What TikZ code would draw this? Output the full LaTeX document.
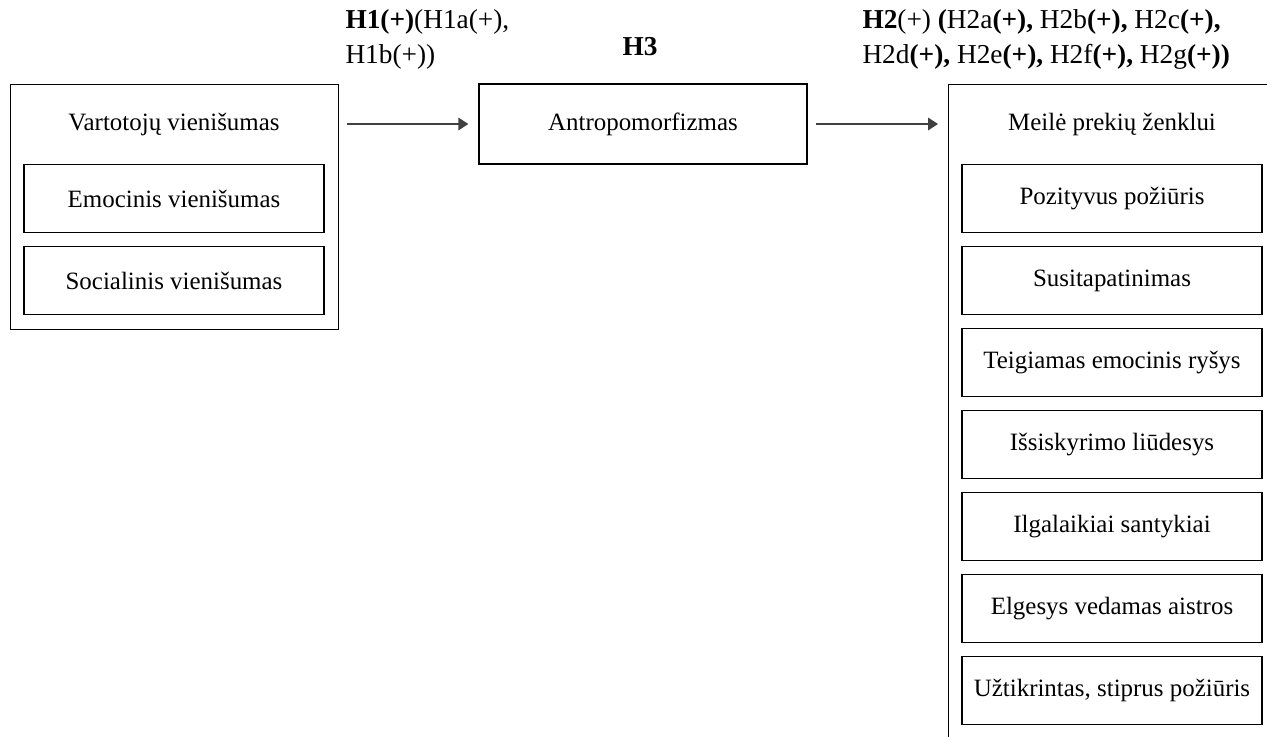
\documentclass[tikz,border=0pt]{standalone}
\usepackage{fontspec}
\setmainfont{Liberation Serif}
\usetikzlibrary{arrows.meta,positioning}
\tikzset{every picture/.style={line width=0.75pt}}

\begin{document}
\begin{tikzpicture}[x=0.75pt,y=0.75pt,yscale=-1,xscale=1,
  font=\fontsize{18.7}{22}\selectfont,
  box/.style={draw, line width=1pt, inner sep=0pt},
  item/.style={box, minimum width=225pt, minimum height=51pt},
  hyp/.style={anchor=north west, align=left, inner sep=0pt, font=\fontsize{20.5}{26}\selectfont},
  link/.style={draw={rgb,255:red,64;green,64;blue,64}, line width=1pt, -{Triangle[length=7.5pt,width=9.5pt]}, shorten <=6pt, shorten >=7.5pt}]
\useasboundingbox (0,0) rectangle (1267,736);
\clip (0,0) rectangle (1267,736);

%Shape: Rectangle (left group)
\node[box, anchor=north west, minimum width=246pt, minimum height=183.75pt] (vienisumas) at (10,84) {};
\node (vienisumasT) at (174,124) {Vartotojų vienišumas};
\node[item] (emocinis) at (174,198.5) {Emocinis vienišumas};
\node[item] (socialinis) at (174,280.5) {Socialinis vienišumas};

%Shape: Rectangle (middle)
\node[box, minimum width=246pt, minimum height=60pt] (antropo) at (643,124) {Antropomorfizmas};

%Shape: Rectangle (right group)
\node[box, anchor=north west, minimum width=255pt, minimum height=525pt] (meile) at (948,84) {};
\node (meileT) at (1112,124) {Meilė prekių ženklui};
\node[item] (pozityvus) at (1112,198.5) {Pozityvus požiūris};
\node[item] (susitap) at (1112,280.5) {Susitapatinimas};
\node[item] (emocRysys) at (1112,362.5) {Teigiamas emocinis ryšys};
\node[item] (issiskyr) at (1112,444.5) {Išsiskyrimo liūdesys};
\node[item] (ilgalaik) at (1112,526.5) {Ilgalaikiai santykiai};
\node[item] (aistra) at (1112,608.5) {Elgesys vedamas aistros};
\node[item] (uztikr) at (1112,690.5) {Užtikrintas, stiprus požiūris};

%Hypotheses
\node[hyp] (h1) at (345,9) {\textbf{H1(+)}(H1a(+),\\H1b(+))};
\node[font=\fontsize{20.5}{26}\selectfont\bfseries] (h3) at (640,47) {H3};
\node[hyp] (h2) at (862,9) {\textbf{H2}(+) \textbf{(}H2a\textbf{(+),} H2b\textbf{(+),} H2c\textbf{(+),}\\H2d\textbf{(+),} H2e\textbf{(+),} H2f\textbf{(+),} H2g\textbf{(+))}};

%Straight Lines
\draw[link] (antropo.west -| vienisumas.east) -- (antropo.west);
\draw[link] (antropo.east) -- (antropo.east -| meile.west);
\end{tikzpicture}
\end{document}
